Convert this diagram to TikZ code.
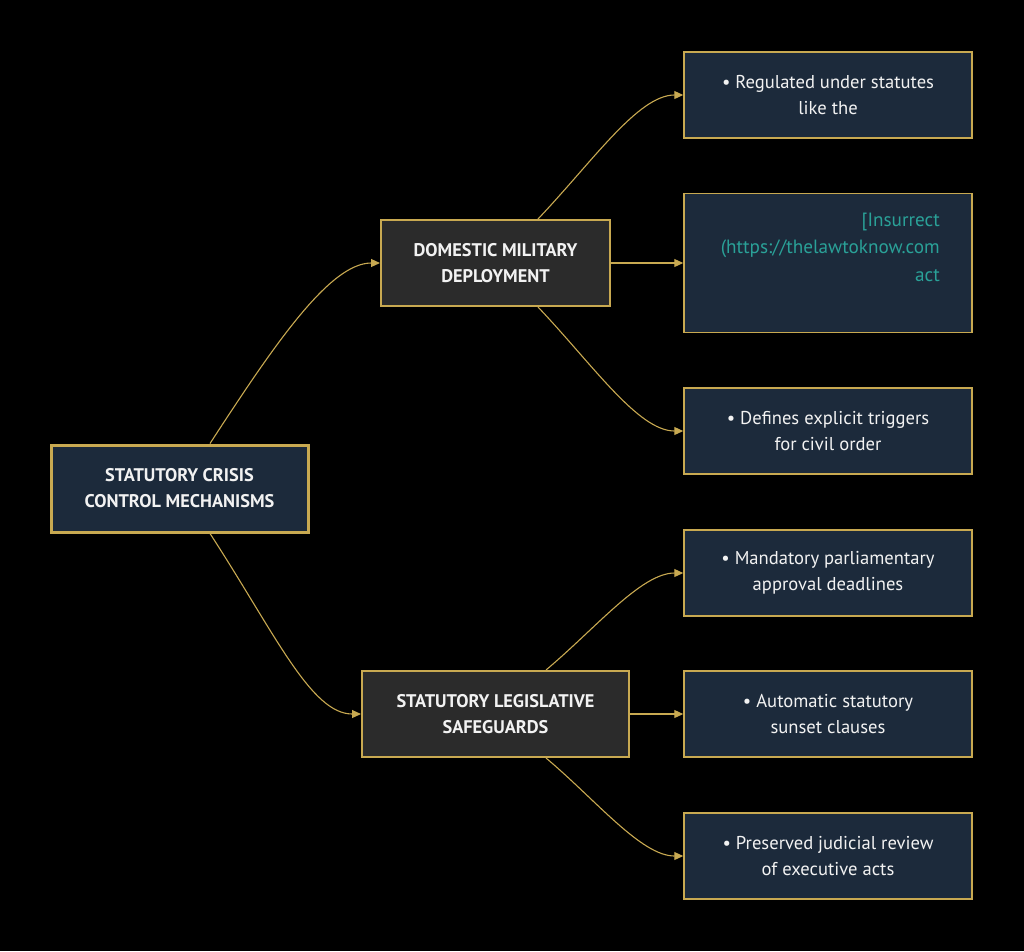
\documentclass[tikz,border=0pt]{standalone}
\usepackage{fontspec}
\setmainfont{PT Sans}
\usetikzlibrary{arrows.meta,calc}
\definecolor{bgc}{HTML}{000000}
\definecolor{navy}{HTML}{1C2A3B}
\definecolor{midfill}{HTML}{2B2B2B}
\definecolor{gold}{HTML}{C8A951}
\definecolor{teal}{HTML}{2AA198}
\definecolor{txt}{HTML}{F2F2F2}
\tikzset{
  x=1pt,y=-1pt,
  base/.style={rectangle,draw=gold,text=txt,align=center,inner sep=0pt,
    font=\fontsize{18.6}{26}\selectfont},
  rootbox/.style={base,fill=navy,line width=3pt,minimum width=257pt,minimum height=87pt,
    font=\fontsize{18.3}{26}\selectfont\bfseries},
  midbox/.style={base,fill=midfill,line width=2pt,minimum height=86pt,
    font=\fontsize{18.3}{26}\selectfont\bfseries},
  leafbox/.style={base,fill=navy,line width=1.5pt,minimum width=288pt,minimum height=86pt},
  conn/.style={draw=gold,line width=1.1pt,-{Triangle[length=9pt,width=8pt]}},
  linktxt/.style={text=teal,anchor=east,inner sep=0pt,font=\fontsize{19.2}{26}\selectfont}
}
\begin{document}
\begin{tikzpicture}
\fill[bgc] (0,0) rectangle (1024,951);
\useasboundingbox (0,0) rectangle (1024,951);

\node[rootbox] (root) at (179.5,488.5) {STATUTORY CRISIS\\CONTROL MECHANISMS};
\node[midbox,minimum width=229pt] (mid1) at (495.5,263) {DOMESTIC MILITARY\\DEPLOYMENT};
\node[midbox,minimum width=267pt] (mid2) at (495.5,714) {STATUTORY LEGISLATIVE\\SAFEGUARDS};

\node[leafbox] (l1) at (828,95) {• Regulated under statutes\\like the};
\node[leafbox,minimum height=139pt] (l2) at (828,263) {};
\node[leafbox] (l3) at (828,431) {• Defines explicit triggers\\for civil order};
\node[leafbox] (l4) at (828,573) {• Mandatory parliamentary\\approval deadlines};
\node[leafbox] (l5) at (828,714) {• Automatic statutory\\sunset clauses};
\node[leafbox] (l6) at (828,856) {• Preserved judicial review\\of executive acts};

\node[linktxt] (lt1) at (940,222) {[Insurrect};
\node[linktxt] (lt2) at (940,249) {(https://thelawtoknow.com};
\node[linktxt] (lt3) at (940,276) {act};

% connectors
\draw[conn] ([xshift=30.5pt]root.north) .. controls +(65,-100) and +(-50,0) .. (mid1.west);
\draw[conn] ([xshift=30.5pt]root.south) .. controls +(65,100) and +(-50,0) .. (mid2.west);

\draw[conn] ([xshift=42.5pt]mid1.north) .. controls +(55,-58) and +(-45,0) .. (l1.west);
\draw[conn] (mid1.east) -- (l2.west);
\draw[conn] ([xshift=42.5pt]mid1.south) .. controls +(55,58) and +(-45,0) .. (l3.west);

\draw[conn] ([xshift=50.5pt]mid2.north) .. controls +(50,-42) and +(-42,0) .. (l4.west);
\draw[conn] (mid2.east) -- (l5.west);
\draw[conn] ([xshift=50.5pt]mid2.south) .. controls +(50,42) and +(-42,0) .. (l6.west);
\end{tikzpicture}
\end{document}
